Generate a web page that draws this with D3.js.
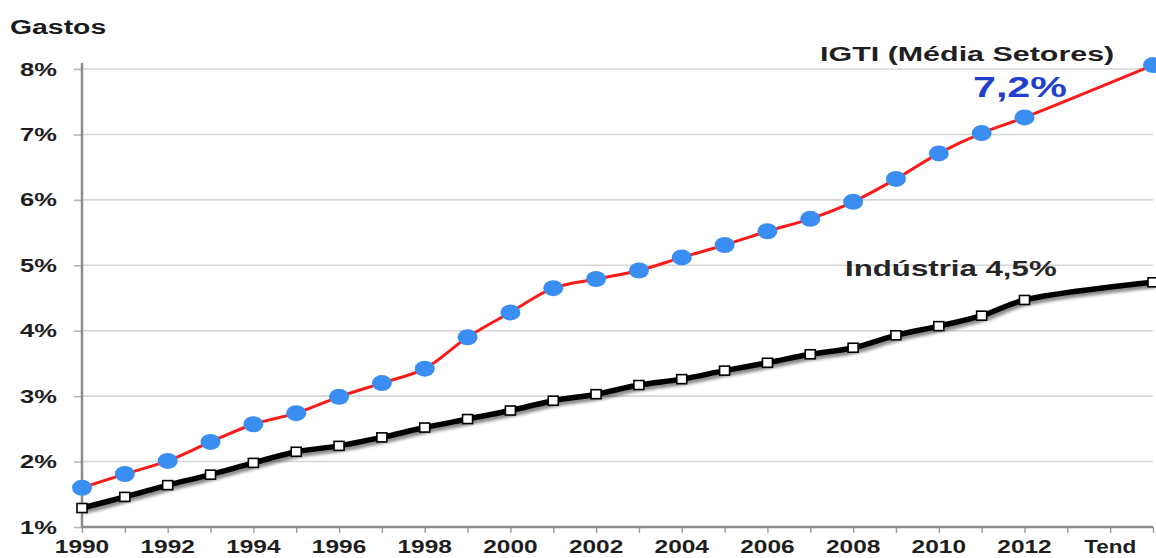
<!DOCTYPE html>
<html>
<head>
<meta charset="utf-8">
<script src="https://cdn.jsdelivr.net/npm/d3@7"></script>
<style>
  html, body { margin: 0; padding: 0; background: #fff; }
  svg { display: block; }
  text { font-family: "Liberation Sans", Arial, sans-serif; font-weight: bold; }
</style>
</head>
<body>
<svg id="chart" width="1156" height="558"></svg>
<script>
// Category slots along the x axis (two empty slots before the trend point)
const slots = ["1990","1991","1992","1993","1994","1995","1996","1997","1998","1999",
               "2000","2001","2002","2003","2004","2005","2006","2007","2008","2009",
               "2010","2011","2012","","Tend",""];
// Slots that carry a tick label
const labelledSlots = ["1990","1992","1994","1996","1998","2000","2002","2004","2006",
                       "2008","2010","2012","Tend"];
// Spending (%) per slot; null where a slot has no value
const igti = [1.60,1.81,2.01,2.30,2.57,2.74,2.99,3.20,3.42,3.90,
              4.28,4.65,4.79,4.92,5.12,5.31,5.52,5.71,5.97,6.32,
              6.71,7.02,7.26,null,null,8.06];
const industria = [1.29,1.46,1.64,1.80,1.98,2.15,2.24,2.37,2.52,2.65,
                   2.78,2.93,3.03,3.17,3.26,3.39,3.51,3.64,3.74,3.93,
                   4.07,4.23,4.47,null,null,4.74];
const yTicks = [1,2,3,4,5,6,7,8];

const svg = d3.select("#chart");
const SX = 1.42; // horizontal text stretch

const x = d3.scalePoint().domain(d3.range(slots.length)).range([82, 1153]);
const y = d3.scaleLinear().domain([1, 8]).range([527, 69]);

function label(g, str, px, py, size, anchor, color, sx) {
  return g.append("text")
    .attr("transform", `translate(${px},${py}) scale(${sx || SX},1)`)
    .attr("text-anchor", anchor)
    .attr("font-size", size)
    .attr("fill", color)
    .text(str);
}

// Shadow filter for the industry line
const defs = svg.append("defs");
const f = defs.append("filter").attr("id", "soft").attr("x", "-5%").attr("y", "-20%")
  .attr("width", "110%").attr("height", "140%");
f.append("feGaussianBlur").attr("stdDeviation", 1.6);

// Horizontal gridlines
svg.append("g").selectAll("line").data(yTicks.slice(1)).join("line")
  .attr("x1", 82).attr("x2", 1153)
  .attr("y1", d => y(d)).attr("y2", d => y(d))
  .attr("stroke", "#d6d6d6").attr("stroke-width", 1.6);

// Y axis
const yAxis = svg.append("g").attr("transform", "translate(82,0)")
  .call(d3.axisLeft(y).tickValues(yTicks).tickSize(8).tickFormat(""));
yAxis.select(".domain").remove();
yAxis.selectAll(".tick line").attr("stroke", "#b5b5b5").attr("stroke-width", 1.6);
svg.append("line").attr("x1", 82).attr("x2", 82).attr("y1", 63).attr("y2", 528)
  .attr("stroke", "#8c8c8c").attr("stroke-width", 2.5);

// X axis
const xAxis = svg.append("g").attr("transform", "translate(0,527)")
  .call(d3.axisBottom(x).tickSize(6).tickFormat(""));
xAxis.select(".domain").remove();
xAxis.selectAll(".tick line").attr("stroke", "#9a9a9a").attr("stroke-width", 1.4);
svg.append("line").attr("x1", 81).attr("x2", 1153).attr("y1", 527).attr("y2", 527)
  .attr("stroke", "#8c8c8c").attr("stroke-width", 2.5);

// Tick labels
const tl = svg.append("g");
yTicks.forEach(v => label(tl, v + "%", 57, y(v) + 6.5, 18, "end", "#1e1e1e"));
slots.forEach((s, i) => {
  if (s && labelledSlots.includes(s)) label(tl, s, x(i), 553, 18, "middle", "#1e1e1e", s === "Tend" ? 1.25 : 1.36);
});

// Title of the value axis
label(svg, "Gastos", 10, 34, 20, "start", "#1a1a1a");

const pts = arr => arr.map((v, i) => ({ i, v })).filter(d => d.v !== null);
const line = d3.line().x(d => x(d.i)).y(d => y(d.v)).curve(d3.curveCatmullRom.alpha(0.5));

// Industry series
const ind = pts(industria);
svg.append("path").datum(ind).attr("d", line)
  .attr("fill", "none").attr("stroke", "#000").attr("stroke-opacity", 0.45)
  .attr("stroke-width", 6).attr("transform", "translate(2,3)").attr("filter", "url(#soft)");
svg.append("path").datum(ind).attr("d", line)
  .attr("fill", "none").attr("stroke", "#000").attr("stroke-width", 5.5)
  .attr("stroke-linejoin", "round");
svg.append("g").selectAll("rect").data(ind).join("rect")
  .attr("x", d => x(d.i) - 5).attr("y", d => y(d.v) - 4.5)
  .attr("width", 10).attr("height", 9)
  .attr("fill", "#fff").attr("stroke", "#000").attr("stroke-width", 1.6);

// IGTI series
const ig = pts(igti);
svg.append("path").datum(ig).attr("d", line)
  .attr("fill", "none").attr("stroke", "#ff1a1a").attr("stroke-width", 3);
svg.append("g").selectAll("ellipse").data(ig).join("ellipse")
  .attr("cx", d => x(d.i)).attr("cy", d => y(d.v))
  .attr("rx", 10).attr("ry", 8)
  .attr("fill", "#3a8ef2");

// Series annotations
label(svg, "IGTI (Média Setores)", 820, 61, 21, "start", "#1f1f1f", 1.45);
label(svg, "7,2%", 973, 97, 29, "start", "#1f3fcc");
label(svg, "Indústria 4,5%", 845, 276, 22, "start", "#262626");
</script>
</body>
</html>
